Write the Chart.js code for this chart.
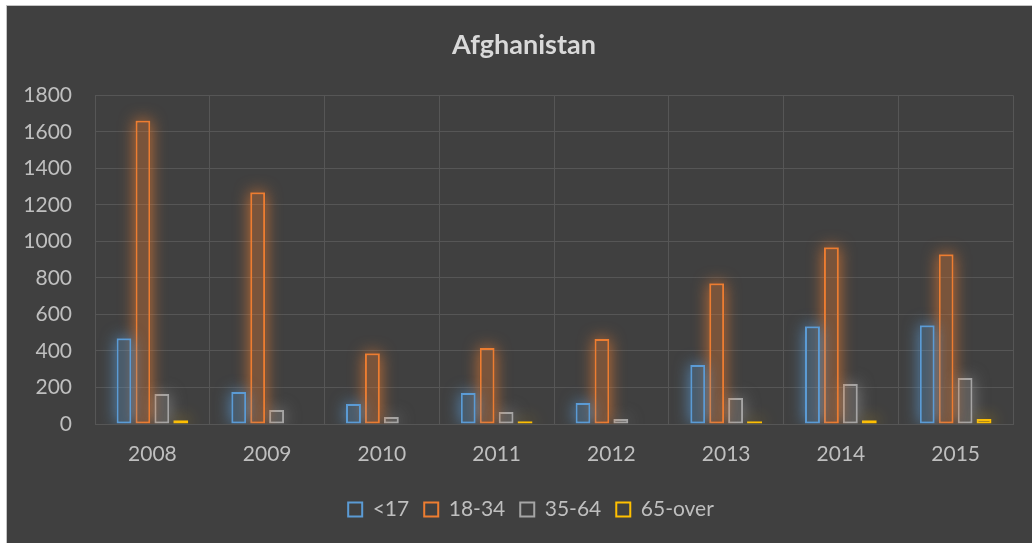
<!DOCTYPE html>
<html>
<head>
<meta charset="utf-8">
<script src="https://cdn.jsdelivr.net/npm/chart.js@4"></script>
<style>
  html, body { margin: 0; padding: 0; background: #fff; overflow: hidden; }
  #frame {
    position: absolute; left: 6px; top: 5px;
    width: 1100px; height: 600px;
    border-left: 1px solid #c4c4c4; border-top: 1px solid #c4c4c4;
    background: #404040;
  }
  #box { position: relative; width: 1025px; height: 537px; }
</style>
</head>
<body>
<div id="frame"><div id="box"><canvas id="chart"></canvas></div></div>
<script>
// Afghanistan - by age group
const years = ['2008', '2009', '2010', '2011', '2012', '2013', '2014', '2015'];
const under17 = [470, 175, 109, 170, 115, 323, 536, 541];
const age18to34 = [1663, 1269, 388, 416, 465, 771, 968, 930];
const age35to64 = [164, 77, 38, 66, 27, 142, 219, 252];
const age65over = [20, 0, 0, 15, 0, 15, 20, 27];
const yTicks = [0, 200, 400, 600, 800, 1000, 1200, 1400, 1600, 1800];

const seriesColors = ['#5B9BD5', '#ED7D31', '#A5A5A5', '#FFC000'];
const fillColors = ['rgba(91,155,213,0.3)', 'rgba(237,125,49,0.33)', 'rgba(165,165,165,0.28)', 'rgba(255,192,0,0.35)'];
const glowColors = ['rgba(91,155,213,0.8)', 'rgba(237,125,49,0.8)', 'rgba(165,165,165,0.6)', 'rgba(255,192,0,0.8)'];

// soft glow round every bar (shadow of an off-screen copy, kept out of the bar itself)
const glowPlugin = {
  id: 'glow',
  beforeDatasetDraw(chart, args) {
    const ctx = chart.ctx;
    const area = chart.chartArea;
    const bars = args.meta.data
      .map(bar => bar.getProps(['x', 'y', 'base', 'width'], true))
      .filter(p => p.base - p.y > 0);
    ctx.save();
    ctx.beginPath();
    ctx.rect(area.left, area.top - 30, area.right - area.left, area.bottom - area.top + 30);
    bars.forEach(p => ctx.rect(p.x - p.width / 2, p.y, p.width, p.base - p.y));
    ctx.clip('evenodd');
    ctx.shadowColor = glowColors[args.index];
    ctx.shadowBlur = 16;
    ctx.shadowOffsetX = 10000;
    ctx.fillStyle = '#000';
    bars.forEach(p => {
      ctx.fillRect(p.x - p.width / 2 - 10000, p.y, p.width, p.base - p.y);
    });
    ctx.restore();
  }
};

// nudge title and legend sideways like the original
const shiftPlugin = {
  id: 'shift',
  afterLayout(chart) {
    chart.legend.left += 21;
    chart.legend.right += 21;
    chart.titleBlock.left += 14;
    chart.titleBlock.right += 14;
  }
};

function makeSet(label, data, i) {
  return {
    label: label,
    data: data,
    backgroundColor: fillColors[i],
    borderColor: seriesColors[i],
    borderWidth: 2,
    borderSkipped: false,
    categoryPercentage: 0.66,
    barPercentage: 0.79
  };
}

const gridColor = '#565656';
const textColor = '#bfbfbf';

new Chart(document.getElementById('chart').getContext('2d'), {
  type: 'bar',
  data: {
    labels: years,
    datasets: [
      makeSet('<17', under17, 0),
      makeSet('18-34', age18to34, 1),
      makeSet('35-64', age35to64, 2),
      makeSet('65-over', age65over, 3)
    ]
  },
  options: {
    responsive: true,
    maintainAspectRatio: false,
    animation: false,
    layout: { padding: { left: 0, right: 19, top: 0, bottom: 13 } },
    plugins: {
      title: {
        display: true,
        text: 'Afghanistan',
        color: '#d9d9d9',
        font: { family: 'Lato', size: 27, weight: 'bold' },
        padding: { top: 23, bottom: 34 }
      },
      legend: {
        position: 'bottom',
        labels: {
          color: textColor,
          font: { family: 'Lato', size: 21 },
          boxWidth: 14,
          boxHeight: 14,
          padding: 15,
          generateLabels(chart) {
            return chart.data.datasets.map((ds, i) => ({
              text: ds.label,
              fillStyle: 'rgba(0,0,0,0)',
              strokeStyle: seriesColors[i],
              lineWidth: 2,
              fontColor: textColor,
              datasetIndex: i,
              hidden: false
            }));
          }
        }
      },
      tooltip: { enabled: false }
    },
    scales: {
      x: {
        grid: { color: gridColor, drawTicks: false },
        border: { color: gridColor },
        ticks: { color: textColor, font: { family: 'Lato', size: 21 }, padding: 18 },
        afterFit(scale) { scale.height = 60; }
      },
      y: {
        min: 0,
        max: 1800,
        grid: { color: gridColor, drawTicks: false },
        border: { color: gridColor },
        ticks: {
          color: textColor,
          font: { family: 'Lato', size: 21 },
          padding: 23,
          stepSize: 200,
          callback: v => String(v)
        },
        afterBuildTicks(scale) {
          scale.ticks = yTicks.map(v => ({ value: v }));
        },
        afterFit(scale) { scale.width = 88; }
      }
    }
  },
  plugins: [glowPlugin, shiftPlugin]
});
</script>
</body>
</html>
